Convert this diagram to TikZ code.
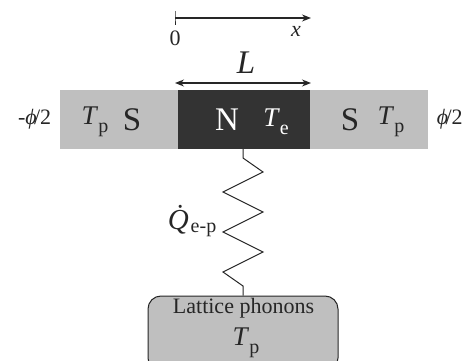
\documentclass[tikz,border=0pt]{standalone}
\usepackage{fontspec}
\setmainfont{Liberation Serif}
\usepackage{xcolor}
\usetikzlibrary{arrows.meta,positioning}
\definecolor{barS}{gray}{0.75}
\definecolor{barN}{gray}{0.2}
\newcommand{\tempP}{\textit{T}\raisebox{-0.3em}{\fontsize{20}{20}\selectfont p}}
\newcommand{\tempE}{\textit{T}\raisebox{-0.3em}{\fontsize{20}{20}\selectfont e}}
\tikzset{
    jjbar/.style={
        draw=none, inner sep=0pt, minimum height=59pt, fill=barS},
    jjsmall/.style={font=\fontsize{22}{24}\selectfont, inner sep=0pt, text=black!85},
    jjlabel/.style={font=\fontsize{27}{29}\selectfont, inner sep=0pt, text=black!85},
    jjletter/.style={font=\fontsize{33}{35}\selectfont, inner sep=0pt, text=black!85},
    jjflow/.style={-{Stealth[length=9pt,width=7pt]}, line width=1.4pt, black!85},
    jjdouble/.style={{Stealth[length=9pt,width=7pt]}-{Stealth[length=9pt,width=7pt]}, line width=1.4pt, black!85},
    jjspring/.style={line width=1pt, black!85},
}

\begin{document}
\begin{tikzpicture}[x=1pt,y=-1pt]
    \useasboundingbox (0,0) rectangle (466,361);
    \clip (0,0) rectangle (466,361);

    % --- Junction bars ---------------------------------------------------------
    \node[jjbar, minimum width=132pt, fill=barN] (normal) at (244,119.5) {};
    \node[jjbar, minimum width=118pt, left=0pt of normal] (left) {};
    \node[jjbar, minimum width=118pt, right=0pt of normal] (right) {};

    % --- Bar labels ------------------------------------------------------------
    \node[jjlabel] (tleft) at (95,122) {\tempP};
    \node[jjletter] (sleft) at (132,120) {S};
    \node[jjletter, text=white] (nmid) at (227,120) {N};
    \node[jjlabel, text=white] (tmid) at (276,122) {\tempE};
    \node[jjletter] (sright) at (350,120) {S};
    \node[jjlabel] (tright) at (391,122) {\tempP};
    \node[jjsmall, left=8pt of left] (phileft) {-\textit{ϕ}\kern-0.12em/2};
    \node[jjsmall, right=8pt of right] (phiright) {\textit{ϕ}\kern-0.12em/2};

    % --- Axis and length -------------------------------------------------------
    \coordinate (axisstart) at (175,18);
    \coordinate (axisend) at (311,18);
    \draw[jjflow] (axisstart) -- (axisend);
    \draw[line width=0.8pt, black!85] (175,11) -- (axisstart) -- (175,25);
    \node[jjsmall] (zero) at (175,38) {0};
    \node[jjsmall] (xlabel) at (296,31) {\textit{x}};
    \coordinate (lstart) at (175,83);
    \coordinate (lend) at (311,83);
    \draw[jjdouble] (lstart) -- (lend);
    \node[jjletter] (llabel) at (246,63) {\textit{L}};

    % --- Lattice box -----------------------------------------------------------
    \node[draw, line width=1pt, black!85, fill=barS, rounded corners=13pt, minimum width=190pt,
        minimum height=75pt, inner sep=0pt] (lattice) at (243,333.5) {};
    \node[jjsmall] (phonons) at (243.5,308) {Lattice phonons};
    \node[jjlabel] (tbox) at (246,343) {\tempP};

    % --- Thermal link ----------------------------------------------------------
    \draw[jjspring] (normal.south -| lattice.north) -- (243,158) -- (263,172) -- (223,192)
        -- (263,212) -- (223,232) -- (263,252) -- (223,272) -- (243,286) -- (lattice.north);
    \node[jjlabel, font=\fontsize{29}{31}\selectfont] (qlabel) at (182.5,220) {\textit{\.Q}};
    \node[font=\fontsize{20}{22}\selectfont, inner sep=0pt, text=black!85] (qsub) at (203.5,230) {e-p};

\end{tikzpicture}
\end{document}
